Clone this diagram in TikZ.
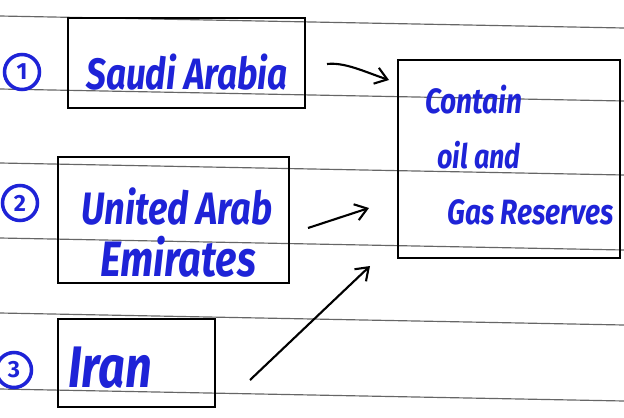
\documentclass[tikz,border=0pt]{standalone}
\usepackage{fontspec}
\usepackage{graphicx}
\setmainfont{Fira Sans}
\usetikzlibrary{arrows.meta}
\definecolor{ink}{RGB}{30,35,215}
\newcommand{\tall}[1]{\scalebox{1}[1.25]{#1}}
\begin{document}
\begin{tikzpicture}[x=0.03cm,y=-0.03cm,
		box/.style={draw=black, line width=2pt, inner sep=0pt},
		hand/.style={text=ink, font=\bfseries\itshape\fontsize{#1}{#1}\selectfont, inner sep=0pt},
		hand/.default=26,
		num/.style={circle, draw=ink, line width=3pt, text=ink, minimum size=1.05cm, inner sep=0pt, font=\bfseries\fontsize{20}{20}\selectfont},
		pfeil/.style={line width=1.8pt, -{Straight Barb[length=3.5mm,width=5mm]}}]
		\useasboundingbox (0,0) rectangle (624,417);
		\fill[white] (0,0) rectangle (624,417);
		%Linien
		\foreach \y in {16,89,163,238,313,389} {
			\draw[black!60, line width=1pt] (0,\y) -- (624,\y+12);
		}
		%Laender
		\node[num] (c1) at (22,72) {1};
		\node[box, minimum width=7.11cm, minimum height=2.7cm] (sa) at (186.5,63) {};
		\node[hand=30] (sat) at (187,72) {\tall{Saudi Arabia}};
		\node[num] (c2) at (20,203) {2};
		\node[box, minimum width=6.93cm, minimum height=3.78cm] (uae) at (173.5,220) {};
		\node[hand=31] (uae1) at (177,206) {\tall{United Arab}};
		\node[hand=34] (uae2) at (178,257) {\tall{Emirates}};
		\node[num] (c3) at (14,370) {3};
		\node[box, minimum width=4.71cm, minimum height=2.64cm] (ir) at (136.5,363) {};
		\node[hand=40, anchor=west] (irt) at (68,368) {\tall{Iran}};
		%Reserven
		\node[box, minimum width=6.66cm, minimum height=5.94cm] (res) at (509,159) {};
		\node[hand=24, anchor=west] (r1) at (425,100) {\tall{Contain}};
		\node[hand=23, anchor=west] (r2) at (437,155) {\tall{oil and}};
		\node[hand=24, anchor=west] (r3) at (447,212) {\tall{Gas Reserves}};
		%Pfeile
		\coordinate (a1) at (327,64);
		\coordinate (b1) at (389,80);
		\coordinate (a2) at (308,228);
		\coordinate (b2) at (369,208);
		\coordinate (a3) at (250,380);
		\coordinate (b3) at (370,266);
		\draw[pfeil] (a1) .. controls (345,62) and (365,72) .. (b1);
		\draw[pfeil] (a2) -- (b2);
		\draw[pfeil] (a3) -- (b3);
\end{tikzpicture}
\end{document}
